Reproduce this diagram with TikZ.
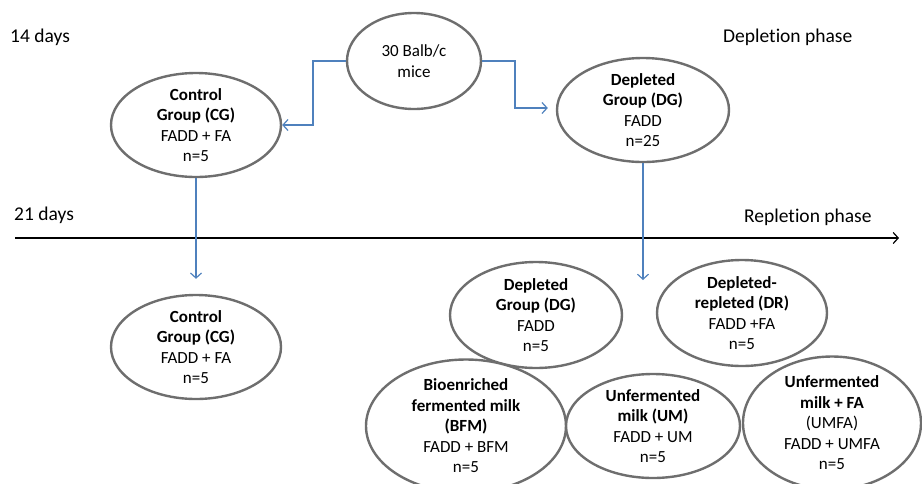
\documentclass[tikz,border=0pt]{standalone}
\usepackage{fontspec}
\setmainfont{Carlito}[Ligatures=NoCommon]
\usetikzlibrary{shapes.geometric,arrows.meta}
\definecolor{ringgray}{RGB}{110,110,110}
\definecolor{flowblue}{RGB}{79,129,189}
\begin{document}
\begin{tikzpicture}[x=1pt,y=-1pt,
  grp/.style={ellipse,draw=ringgray,line width=2.4pt,fill=white,inner sep=0pt,align=center,
    font=\fontsize{17}{20.5}\selectfont},
  flow/.style={draw=flowblue,line width=1.2pt,-{Straight Barb[length=5pt,width=11pt]}},
  lbl/.style={anchor=west,inner sep=0pt,font=\fontsize{19.5}{22}\selectfont}]
\useasboundingbox (0,0) rectangle (922,483);
% labels
\node[lbl] (d14) at (10,37) {14 days};
\node[lbl] (dep) at (723,37) {Depletion phase};
\node[lbl] (d21) at (14,215) {21 days};
\node[lbl] (rep) at (744,217) {Repletion phase};
% axis
\coordinate (ax0) at (15,238);
\coordinate (ax1) at (899,238);
\draw[line width=1.2pt,-{Straight Barb[length=5pt,width=11pt]}] (ax0) -- (ax1);
% nodes
\node[grp,minimum width=134pt,minimum height=96pt] (mice) at (414,61) {30 Balb/c\\mice};
\node[grp,minimum width=170pt,minimum height=100pt] (cg1) at (196,125) {\textbf{Control}\\\textbf{Group (CG)}\\FADD + FA\\n=5};
\node[grp,minimum width=172pt,minimum height=104pt] (dg1) at (643,110) {\textbf{Depleted}\\\textbf{Group (DG)}\\FADD\\n=25};
\node[grp,minimum width=170pt,minimum height=104pt] (cg2) at (196,347) {\textbf{Control}\\\textbf{Group (CG)}\\FADD + FA\\n=5};
\node[grp,minimum width=172pt,minimum height=106pt] (dg2) at (536,315) {\textbf{Depleted}\\\textbf{Group (DG)}\\FADD\\n=5};
\node[grp,minimum width=170pt,minimum height=106pt] (dr) at (742,313) {\textbf{Depleted-}\\\textbf{repleted (DR)}\\FADD +FA\\n=5};
\node[grp,minimum width=200pt,minimum height=112pt] (bfm) at (466,426) {\textbf{Bioenriched}\\\textbf{fermented milk}\\\textbf{(BFM)}\\FADD + BFM\\n=5};
\node[grp,minimum width=174pt,minimum height=102pt] (um) at (653,426) {\textbf{Unfermented}\\\textbf{milk (UM)}\\FADD + UM\\n=5};
\node[grp,minimum width=178pt,minimum height=120pt] (umfa) at (832,423) {\textbf{Unfermented}\\\textbf{milk + FA}\\(UMFA)\\FADD + UMFA\\n=5};
% connectors
\coordinate (k1) at (313,61);
\coordinate (k2) at (515,61);
\coordinate (a2) at (643,280);
\draw[flow] (mice.west) -- (k1) |- (cg1.east);
\draw[flow,shorten >=8pt] (mice.east) -- (k2) |- ([yshift=2pt]dg1.west);
\draw[flow,shorten >=15pt] (cg1.south) -- (cg2.north);
\draw[flow] (dg1.south) -- (a2);
\end{tikzpicture}
\end{document}
